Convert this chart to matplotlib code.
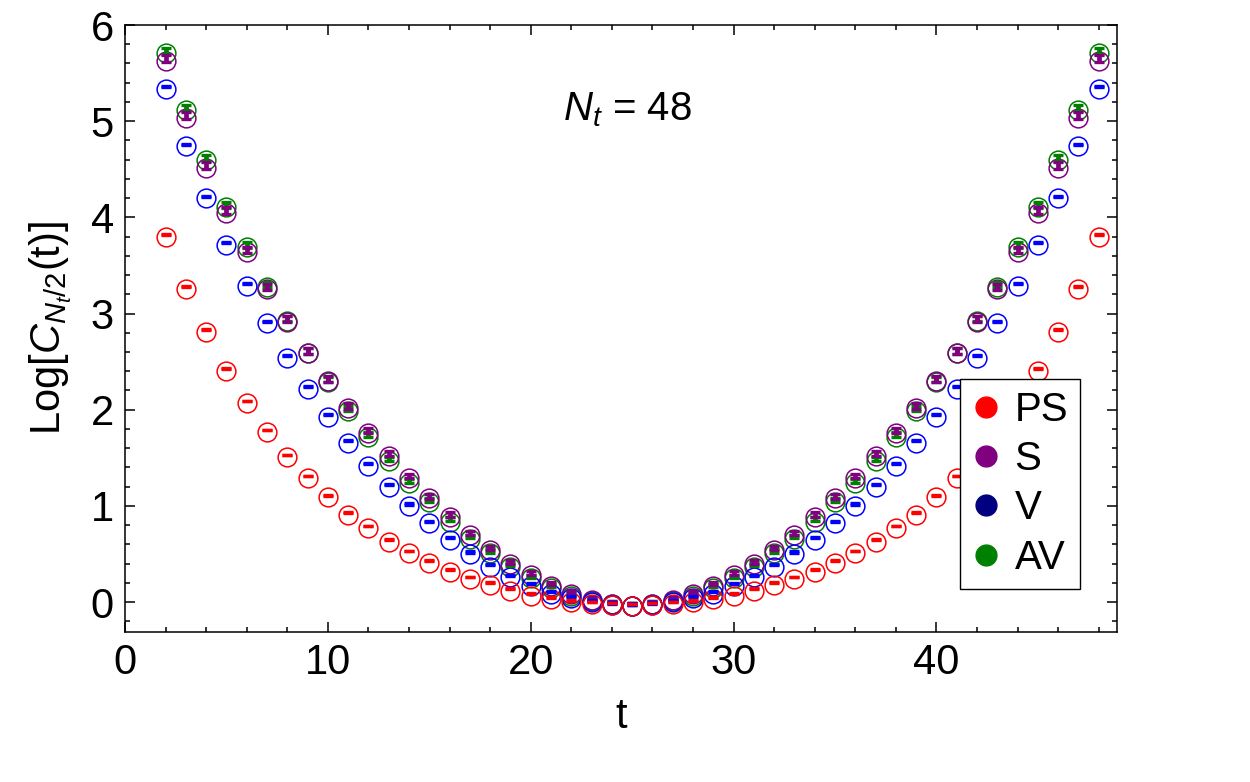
import numpy as np
import matplotlib
matplotlib.use("Agg")
import matplotlib.pyplot as plt
from matplotlib.lines import Line2D
from matplotlib.ticker import MultipleLocator
from matplotlib.transforms import ScaledTranslation

plt.rcParams['font.family'] = ['Liberation Sans', 'DejaVu Sans']
plt.rcParams['mathtext.fontset'] = 'custom'
plt.rcParams['mathtext.rm'] = 'Liberation Sans'
plt.rcParams['mathtext.it'] = 'Liberation Sans:italic'

# time slices
t = list(range(2, 49))

# Log of correlators (symmetric around t = 25)
ps = [3.82, 3.28, 2.83, 2.43, 2.09, 1.79, 1.53, 1.31, 1.11, 0.93, 0.79, 0.65,
      0.53, 0.43, 0.34, 0.26, 0.20, 0.14, 0.09, 0.05, 0.02, 0.00, -0.01, -0.02,
      -0.01, 0.00, 0.02, 0.05, 0.09, 0.14, 0.20, 0.26, 0.34, 0.43, 0.53, 0.65,
      0.79, 0.93, 1.11, 1.31, 1.53, 1.79, 2.09, 2.43, 2.83, 3.28, 3.82]
s = [5.65, 5.06, 4.54, 4.07, 3.66, 3.28, 2.94, 2.61, 2.32, 2.04, 1.78, 1.54,
     1.31, 1.10, 0.91, 0.72, 0.56, 0.42, 0.30, 0.19, 0.11, 0.04, 0.00, -0.02,
     0.00, 0.04, 0.11, 0.19, 0.30, 0.42, 0.56, 0.72, 0.91, 1.10, 1.31, 1.54,
     1.78, 2.04, 2.32, 2.61, 2.94, 3.28, 3.66, 4.07, 4.54, 5.06, 5.65]
v = [5.36, 4.76, 4.22, 3.74, 3.31, 2.92, 2.56, 2.24, 1.95, 1.68, 1.44, 1.22,
     1.02, 0.84, 0.67, 0.52, 0.39, 0.28, 0.19, 0.11, 0.06, 0.02, -0.01, -0.02,
     -0.01, 0.02, 0.06, 0.11, 0.19, 0.28, 0.39, 0.52, 0.67, 0.84, 1.02, 1.22,
     1.44, 1.68, 1.95, 2.24, 2.56, 2.92, 3.31, 3.74, 4.22, 4.76, 5.36]
av = [5.73, 5.14, 4.62, 4.13, 3.71, 3.30, 2.95, 2.61, 2.31, 2.01, 1.74, 1.49,
      1.26, 1.06, 0.86, 0.68, 0.53, 0.39, 0.27, 0.17, 0.09, 0.03, 0.00, -0.02,
      0.00, 0.03, 0.09, 0.17, 0.27, 0.39, 0.53, 0.68, 0.86, 1.06, 1.26, 1.49,
      1.74, 2.01, 2.31, 2.61, 2.95, 3.30, 3.71, 4.13, 4.62, 5.14, 5.73]

# error estimates
ps_err = [0.004] * 47
v_err = [0.006] * 47
s_err = [0.036, 0.035, 0.034, 0.033, 0.032, 0.031, 0.030, 0.030, 0.029, 0.028, 0.027, 0.026,
         0.025, 0.024, 0.023, 0.022, 0.021, 0.020, 0.018, 0.016, 0.015, 0.014, 0.013, 0.012,
         0.013, 0.014, 0.015, 0.016, 0.018, 0.020, 0.021, 0.022, 0.023, 0.024, 0.025, 0.026,
         0.027, 0.028, 0.029, 0.030, 0.030, 0.031, 0.032, 0.033, 0.034, 0.035, 0.036]
av_err = [0.034, 0.033, 0.032, 0.031, 0.030, 0.029, 0.028, 0.027, 0.026, 0.025, 0.024, 0.023,
          0.022, 0.021, 0.020, 0.019, 0.018, 0.017, 0.016, 0.015, 0.014, 0.013, 0.012, 0.011,
          0.012, 0.013, 0.014, 0.015, 0.016, 0.017, 0.018, 0.019, 0.020, 0.021, 0.022, 0.023,
          0.024, 0.025, 0.026, 0.027, 0.028, 0.029, 0.030, 0.031, 0.032, 0.033, 0.034]

labels = ["PS", "S", "V", "AV"]
point_colors = ["#ff0000", "#800080", "#0000ff", "#008000"]
legend_colors = ["#ff0000", "#800080", "#000080", "#008000"]

fig = plt.figure(figsize=(12.5, 7.82), dpi=100)
ax = fig.add_axes([0.1, 0.192, 0.7936, 0.776])

# open circles sit a couple of pixels below the error bar centre, as in the original
circle_shift = ax.transData + ScaledTranslation(0, -2.2 / 100, fig.dpi_scale_trans)

series = {"PS": (ps, ps_err), "S": (s, s_err), "V": (v, v_err), "AV": (av, av_err)}
colors = dict(zip(labels, point_colors))
for name in ["AV", "S", "V", "PS"]:
    y, err = series[name]
    c = colors[name]
    ax.plot(t, y, linestyle='none', marker='o', markersize=13.5,
            markerfacecolor='none', markeredgecolor=c, markeredgewidth=1.1,
            transform=circle_shift, zorder=2)
    ax.errorbar(t, y, yerr=err, fmt='none', ecolor=c, elinewidth=3.4,
                capsize=3.4, capthick=2.4, zorder=3)

ax.set_xlim(0, 48.9)
ax.set_ylim(-0.31, 6.0)
ax.xaxis.set_major_locator(MultipleLocator(10))
ax.xaxis.set_minor_locator(MultipleLocator(2))
ax.yaxis.set_major_locator(MultipleLocator(1))
ax.yaxis.set_minor_locator(MultipleLocator(0.2))
ax.tick_params(which='both', direction='in', top=True, right=True, width=1.1)
ax.tick_params(which='major', length=7, labelsize=30, pad=8)
ax.tick_params(which='minor', length=3.5)
for sp in ax.spines.values():
    sp.set_linewidth(1.1)

ax.set_xlabel("t", fontsize=30, labelpad=10)
ax.set_ylabel(r"Log[$C_{N_t/2}$(t)]", fontsize=30, labelpad=12)

ax.text(0.506, 0.8435, r"$N_t$ = 48", transform=ax.transAxes, fontsize=29,
        ha='center', va='baseline')

handles = [Line2D([], [], linestyle='none', marker='o', markersize=15,
                  markerfacecolor=c, markeredgecolor=c) for c in legend_colors]
leg = ax.legend(handles, labels, loc='upper left', bbox_to_anchor=(0.842, 0.417),
                fontsize=29, frameon=True, fancybox=False, framealpha=1,
                edgecolor='black', handlelength=0.7, handletextpad=0.35,
                labelspacing=0.28, borderpad=0.3, borderaxespad=0)
leg.get_frame().set_linewidth(1.0)

fig.savefig("out.png", dpi=100)
